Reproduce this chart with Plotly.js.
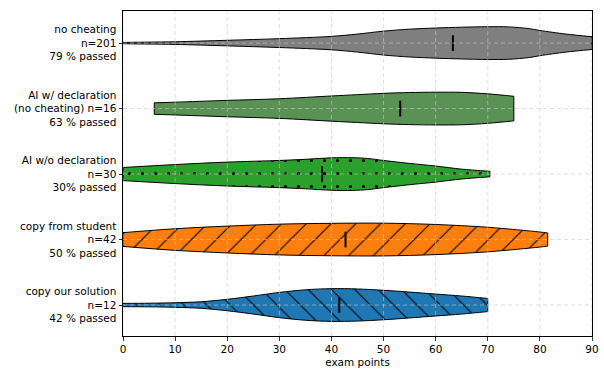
<!DOCTYPE html>
<html>
<head>
<meta charset="utf-8">
<script src="https://cdn.plot.ly/plotly-3.0.1.min.js"></script>
<style>html,body{margin:0;padding:0;background:#fff;}#chart{width:604px;height:381px;}</style>
</head>
<body>
<div id="chart"></div>
<script>
// Categories (top to bottom)
const categories = ["no cheating", "AI w/ declaration", "AI w/o declaration", "copy from student", "copy our solution"];
const tickLabels = [
  "no cheating<br>n=201<br>79 % passed",
  "AI w/ declaration<br>(no cheating) n=16<br>63 % passed",
  "AI w/o declaration<br>n=30<br>30% passed",
  "copy from student<br>n=42<br>50 % passed",
  "copy our solution<br>n=12<br>42 % passed"
];
// Violin outlines: exam points and relative density (max = 1)
const noCheatX = [0, 5, 10, 20, 30, 40, 45, 50, 55, 60, 65, 70, 74, 78, 80, 85, 90];
const noCheatD = [0.04, 0.06, 0.08, 0.17, 0.27, 0.41, 0.55, 0.73, 0.85, 0.92, 0.97, 1.0, 0.99, 0.88, 0.77, 0.55, 0.39];
const aiDeclX = [6, 10, 20, 30, 40, 45, 50, 55, 60, 65, 70, 75];
const aiDeclD = [0.35, 0.39, 0.5, 0.6, 0.77, 0.85, 0.93, 0.98, 1.0, 0.99, 0.9, 0.75];
const aiNoDeclX = [0, 10, 20, 30, 35, 40, 44, 47, 50, 55, 60, 65, 70.4];
const aiNoDeclD = [0.4, 0.58, 0.73, 0.83, 0.9, 0.99, 1.0, 0.95, 0.83, 0.65, 0.49, 0.3, 0.17];
const copyStudX = [0, 10, 20, 30, 40, 50, 60, 70, 80, 81.5];
const copyStudD = [0.42, 0.66, 0.82, 0.94, 0.99, 1.0, 0.92, 0.75, 0.46, 0.4];
const copyOursX = [0, 5, 10, 15, 20, 25, 30, 35, 40, 45, 50, 55, 60, 65, 70];
const copyOursD = [0.1, 0.11, 0.14, 0.2, 0.35, 0.55, 0.77, 0.93, 1.0, 0.98, 0.9, 0.79, 0.67, 0.55, 0.4];
// Medians
const medians = [63.3, 53.2, 38.2, 42.7, 41.5];
const xTicks = [0, 10, 20, 30, 40, 50, 60, 70, 80, 90];

const groups = [
  {x: noCheatX, d: noCheatD, color: "#7f7f7f", pattern: null},
  {x: aiDeclX, d: aiDeclD, color: "#5a9154", pattern: null},
  {x: aiNoDeclX, d: aiNoDeclD, color: "#2ca02c", pattern: {shape: ".", size: 13, solidity: 0.045}},
  {x: copyStudX, d: copyStudD, color: "#ff7f0e", pattern: {shape: "/", size: 17.5, solidity: 0.06}},
  {x: copyOursX, d: copyOursD, color: "#1f77b4", pattern: {shape: "\\", size: 16.5, solidity: 0.06}}
];
const halfWidth = 0.25;
const n = categories.length;
const edge = {color: "#000", width: 1, shape: "spline", smoothing: 0.9};
const traces = [];
groups.forEach((g, i) => {
  const yc = n - 1 - i;
  const last = g.x.length - 1;
  traces.push({
    type: "scatter", mode: "lines", x: g.x, y: g.d.map(v => yc - halfWidth * v),
    line: edge, hoverinfo: "skip", showlegend: false
  });
  const t = {
    type: "scatter", mode: "lines", x: g.x, y: g.d.map(v => yc + halfWidth * v),
    fill: "tonexty", fillcolor: g.color, line: edge, hoverinfo: "skip", showlegend: false
  };
  if (g.pattern) {
    t.fillpattern = Object.assign({fgcolor: "#000", bgcolor: g.color, fillmode: "replace"}, g.pattern);
  }
  traces.push(t);
});
groups.forEach((g, i) => {
  const yc = n - 1 - i;
  const last = g.x.length - 1;
  [0, last].forEach(k => traces.push({
    type: "scatter", mode: "lines", x: [g.x[k], g.x[k]],
    y: [yc - halfWidth * g.d[k], yc + halfWidth * g.d[k]],
    line: {color: "#000", width: 1}, hoverinfo: "skip", showlegend: false
  }));
  traces.push({
    type: "scatter", mode: "lines", x: [medians[i], medians[i]], y: [yc - 0.12, yc + 0.12],
    line: {color: "#000", width: 2}, hoverinfo: "skip", showlegend: false
  });
});

const gridLine = {color: "rgba(200,200,200,0.75)", width: 0.8, dash: "4px,3px"};
const shapes = [];
xTicks.forEach(v => shapes.push({type: "line", layer: "above", xref: "x", yref: "paper", x0: v, x1: v, y0: 0, y1: 1, line: gridLine}));
categories.forEach((c, i) => shapes.push({type: "line", layer: "above", xref: "paper", yref: "y", x0: 0, x1: 1, y0: i, y1: i, line: gridLine}));

const layout = {
  width: 604, height: 381,
  margin: {l: 123, r: 12, t: 11, b: 45},
  paper_bgcolor: "#fff", plot_bgcolor: "#fff",
  font: {family: "DejaVu Sans", size: 10.5, color: "#000"},
  showlegend: false,
  xaxis: {
    range: [0, 90], tickvals: xTicks, ticktext: xTicks.map(String),
    showgrid: false, zeroline: false, showline: true, mirror: true, linecolor: "#000", linewidth: 1,
    ticks: "outside", ticklen: 3.5, tickwidth: 0.8, tickcolor: "#000",
    title: {text: "exam points", font: {size: 10.5}, standoff: 4}
  },
  yaxis: {
    range: [-0.473, 4.49], tickvals: [4, 3, 2, 1, 0], ticktext: tickLabels,
    showgrid: false, zeroline: false, showline: true, mirror: true, linecolor: "#000", linewidth: 1,
    ticks: "outside", ticklen: 3.5, tickwidth: 0.8, tickcolor: "#000"
  },
  shapes: shapes
};
Plotly.newPlot("chart", traces, layout, {staticPlot: true, displayModeBar: false});
</script>
</body>
</html>
